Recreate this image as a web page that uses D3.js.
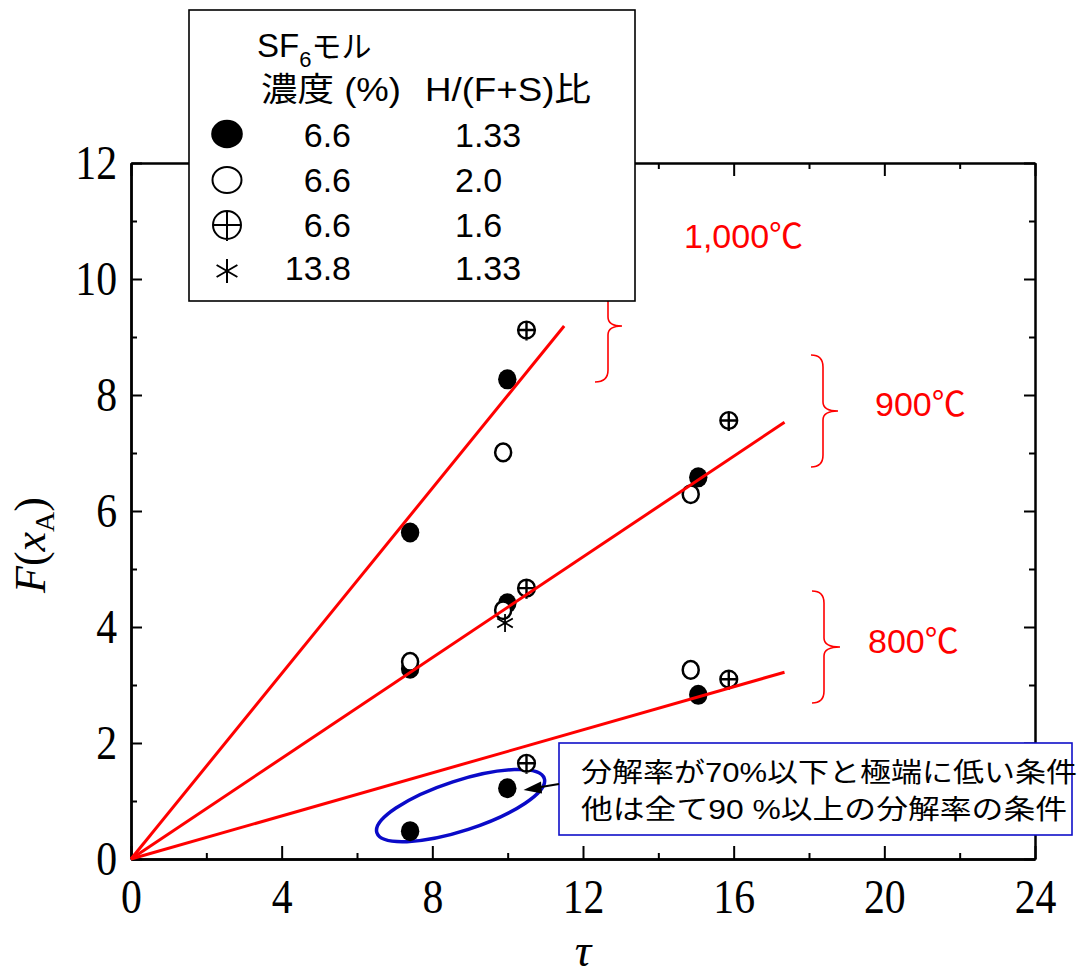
<!DOCTYPE html>
<html>
<head>
<meta charset="utf-8">
<script src="https://cdn.jsdelivr.net/npm/d3@7"></script>
<style>
  body { margin: 0; background: #fff; }
  svg { display: block; }
</style>
</head>
<body>
<svg id="chart" width="1086" height="977"></svg>
<script>
// tick values
var xMajor = [0, 4, 8, 12, 16, 20, 24];
var xMinor = [2, 6, 10, 14, 18, 22];
var yMajor = [0, 2, 4, 6, 8, 10, 12];
var yMinor = [1, 3, 5, 7, 9, 11];

// SF6 6.6%, H/(F+S) 1.33  (filled)
var filledX = [7.41, 9.99, 7.41, 9.99, 15.06, 15.06, 7.41, 9.99];
var filledY = [5.63, 8.27, 3.28, 4.41, 6.58, 2.83, 0.48, 1.22];
// SF6 6.6%, 2.0 (open)
var openX = [7.41, 9.88, 9.88, 14.86, 14.86];
var openY = [3.40, 7.01, 4.29, 6.29, 3.26];
// SF6 6.6%, 1.6 (circle plus)
var plusX = [10.50, 10.50, 15.87, 15.87, 10.50];
var plusY = [9.12, 4.67, 7.56, 3.10, 1.65];
// SF6 13.8%, 1.33 (asterisk)
var starX = [9.93];
var starY = [4.07];

// fitted lines through origin
var lineLabels = ["1,000℃", "900℃", "800℃"];
var lineEndX = [11.5, 17.35, 17.35];
var lineEndY = [9.19, 7.53, 3.22];

// legend
var legendMarks = ["filled", "open", "plus", "star"];
var legendConc = ["6.6", "6.6", "6.6", "13.8"];
var legendRatio = ["1.33", "2.0", "1.6", "1.33"];

var noteLines = ["分解率が70%以下と極端に低い条件", "他は全て90 %以上の分解率の条件"];

var svg = d3.select("#chart");
var x = d3.scaleLinear().domain([0, 24]).range([131, 1035]);
var y = d3.scaleLinear().domain([0, 12]).range([859, 163]);

var latin = "'Liberation Sans', Arial, 'Noto Sans CJK JP', sans-serif";
var cjk = "'Liberation Sans', 'Noto Sans CJK JP', sans-serif";

function styleAxis(g, w) {
    g.selectAll(".domain").attr("stroke", "#000").attr("stroke-width", w);
    g.selectAll(".tick line").attr("stroke", "#000").attr("stroke-width", 2);
    g.selectAll("text")
        .attr("font-family", "'Liberation Serif', 'Times New Roman', serif")
        .attr("font-size", 48)
        .attr("fill", "#000")
        .attr("transform", "scale(0.87,1)");
}

// frame + ticks (all pointing inward)
var gB = svg.append("g").attr("transform", "translate(0," + y(0) + ")");
gB.call(d3.axisBottom(x).tickValues(xMajor).tickSizeInner(-13).tickSizeOuter(0).tickPadding(20).tickFormat(d3.format("d")));
gB.append("g").call(d3.axisBottom(x).tickValues(xMinor).tickSizeInner(-6).tickSizeOuter(0).tickFormat(""));
styleAxis(gB, 2.6);

var gT = svg.append("g").attr("transform", "translate(0," + y(12) + ")");
gT.call(d3.axisTop(x).tickValues(xMajor).tickSizeInner(-13).tickSizeOuter(0).tickFormat(""));
gT.append("g").call(d3.axisTop(x).tickValues(xMinor).tickSizeInner(-6).tickSizeOuter(0).tickFormat(""));
styleAxis(gT, 2);

var gL = svg.append("g").attr("transform", "translate(" + x(0) + ",0)");
gL.call(d3.axisLeft(y).tickValues(yMajor).tickSizeInner(-11).tickSizeOuter(0).tickPadding(16).tickFormat(d3.format("d")));
gL.append("g").call(d3.axisLeft(y).tickValues(yMinor).tickSizeInner(-6).tickSizeOuter(0).tickFormat(""));
styleAxis(gL, 2.4);

var gR = svg.append("g").attr("transform", "translate(" + x(24) + ",0)");
gR.call(d3.axisRight(y).tickValues(yMajor).tickSizeInner(-11).tickSizeOuter(0).tickFormat(""));
gR.append("g").call(d3.axisRight(y).tickValues(yMinor).tickSizeInner(-6).tickSizeOuter(0).tickFormat(""));
styleAxis(gR, 2);

// axis titles
var yl = svg.append("text")
    .attr("transform", "translate(45,545) rotate(-90)")
    .attr("text-anchor", "middle")
    .attr("font-family", "'Liberation Serif', 'Times New Roman', serif")
    .attr("font-size", 44)
    .attr("fill", "#000");
yl.append("tspan").attr("font-style", "italic").text("F");
yl.append("tspan").text("(");
yl.append("tspan").attr("font-style", "italic").text("x");
yl.append("tspan").attr("font-size", 28).attr("dy", 9).text("A");
yl.append("tspan").attr("dy", -9).text(")");

svg.append("text")
    .attr("x", x(12)).attr("y", 966)
    .attr("text-anchor", "middle")
    .attr("font-family", "'Liberation Serif', 'Times New Roman', serif")
    .attr("font-style", "italic")
    .attr("font-size", 46)
    .text("τ");

// marker shapes
function plusPath(r, arm) {
    return "M" + (-r) + ",0A" + r + "," + r + " 0 1,0 " + r + ",0A" + r + "," + r + " 0 1,0 " + (-r) + ",0Z"
        + "M" + (-r) + ",0L" + r + ",0M0," + (-r) + "L0," + arm;
}
function starPath(s) {
    var p = "";
    [90, 30, 150].forEach(function (a) {
        var t = a * Math.PI / 180, dx = Math.cos(t) * s, dy = Math.sin(t) * s;
        p += "M" + (-dx) + "," + (-dy) + "L" + dx + "," + dy;
    });
    return p;
}
function drawMark(g, type, big) {
    if (type == "filled") {
        g.append("ellipse").attr("rx", big ? 15.8 : 9.2).attr("ry", big ? 14.2 : 10).attr("fill", "#000");
    } else if (type == "open") {
        g.append("ellipse").attr("rx", big ? 14.5 : 8).attr("ry", big ? 13 : 8.8)
            .attr("fill", "#fff").attr("stroke", "#000").attr("stroke-width", big ? 2 : 2.5);
    } else if (type == "plus") {
        g.append("path").attr("d", big ? plusPath(14, 16) : plusPath(8.4, 10.5))
            .attr("fill", "#fff").attr("stroke", "#000").attr("stroke-width", big ? 2 : 2.4);
    } else {
        g.append("path").attr("d", starPath(big ? 12 : 9)).attr("fill", "none")
            .attr("stroke", "#000").attr("stroke-width", big ? 2 : 1.8);
    }
}

// low conversion group ellipse + pointer
var ellC = [8.75, 0.92];
svg.append("ellipse")
    .attr("transform", "translate(" + x(ellC[0]) + "," + y(ellC[1]) + ") rotate(-18)")
    .attr("rx", 88).attr("ry", 25)
    .attr("fill", "none").attr("stroke", "#0a0ac8").attr("stroke-width", 3.5);

function drawSeries(xs, ys, type) {
    xs.forEach(function (d, i) {
        drawMark(svg.append("g").attr("transform", "translate(" + x(d) + "," + y(ys[i]) + ")"), type, false);
    });
}
drawSeries(filledX, filledY, "filled");
drawSeries(openX, openY, "open");
drawSeries(plusX, plusY, "plus");
drawSeries(starX, starY, "star");

// fitted lines
var line = d3.line().x(function (d) { return x(d[0]); }).y(function (d) { return y(d[1]); });
lineEndX.forEach(function (d, i) {
    svg.append("path")
        .attr("d", line([[0, 0], [d, lineEndY[i]]]))
        .attr("fill", "none").attr("stroke", "#ff0000").attr("stroke-width", 3);
});

// braces
function bracePath(xl, xv, xc, yTop, yMid, yBot) {
    var r = 12, c = 9;
    return "M" + xl + "," + yTop + "Q" + xv + "," + yTop + " " + xv + "," + (yTop + r)
        + "L" + xv + "," + (yMid - c) + "Q" + xv + "," + yMid + " " + xc + "," + yMid
        + "Q" + xv + "," + yMid + " " + xv + "," + (yMid + c)
        + "L" + xv + "," + (yBot - r) + "Q" + xv + "," + yBot + " " + xl + "," + yBot;
}
var braces = [[595, 608, 622, 270, 326, 382], [811, 823, 838, 355, 411, 467], [812, 824, 840, 591, 647, 703]];
braces.forEach(function (b) {
    svg.append("path").attr("d", bracePath.apply(null, b))
        .attr("fill", "none").attr("stroke", "#ff0000").attr("stroke-width", 1.6);
});
var labelPos = [[684, 248], [875, 416], [868, 653]];
lineLabels.forEach(function (t, i) {
    svg.append("text").attr("x", labelPos[i][0]).attr("y", labelPos[i][1])
        .attr("font-family", latin).attr("font-size", 34).attr("fill", "#ff0000").text(t);
});

// note box
svg.append("rect").attr("x", 559).attr("y", 743).attr("width", 513).attr("height", 92)
    .attr("fill", "#fff").attr("stroke", "#1010c8").attr("stroke-width", 1.6);
var noteLen = [496, 486];
noteLines.forEach(function (t, i) {
    svg.append("text").attr("x", 581).attr("y", 782 + i * 37)
        .attr("font-family", cjk).attr("font-size", 27).attr("fill", "#000")
        .attr("textLength", noteLen[i]).attr("lengthAdjust", "spacingAndGlyphs")
        .text(t);
});
svg.append("line").attr("x1", 559).attr("y1", 784).attr("x2", 538).attr("y2", 787.5)
    .attr("stroke", "#000").attr("stroke-width", 2.2);
svg.append("path").attr("d", "M523.5,790L541,781.5L542,793.5Z").attr("fill", "#000");

// legend
var leg = svg.append("g");
leg.append("rect").attr("x", 189).attr("y", 10).attr("width", 446).attr("height", 291)
    .attr("fill", "#fff").attr("stroke", "#000").attr("stroke-width", 1.6);
var h1 = leg.append("text").attr("x", 257).attr("y", 57).attr("font-family", cjk).attr("font-size", 33);
h1.append("tspan").text("SF");
h1.append("tspan").attr("font-size", 22).attr("dy", 10).text("6");
h1.append("tspan").attr("font-size", 30).attr("dy", -10).text("モル");
leg.append("text").attr("x", 261).attr("y", 101).attr("font-family", cjk).attr("font-size", 33)
    .attr("textLength", 140).attr("lengthAdjust", "spacingAndGlyphs").text("濃度 (%)");
leg.append("text").attr("x", 425).attr("y", 101).attr("font-family", cjk).attr("font-size", 33)
    .attr("textLength", 166).attr("lengthAdjust", "spacingAndGlyphs").text("H/(F+S)比");
var rowY = [134, 180, 225, 271];
var rowBase = [147, 192, 237, 280];
legendMarks.forEach(function (m, i) {
    drawMark(leg.append("g").attr("transform", "translate(227," + rowY[i] + ")"), m, true);
    leg.append("text").attr("x", 351).attr("y", rowBase[i]).attr("text-anchor", "end")
        .attr("font-family", latin).attr("font-size", 34).text(legendConc[i]);
    leg.append("text").attr("x", 455).attr("y", rowBase[i])
        .attr("font-family", latin).attr("font-size", 34).text(legendRatio[i]);
});
</script>
</body>
</html>
